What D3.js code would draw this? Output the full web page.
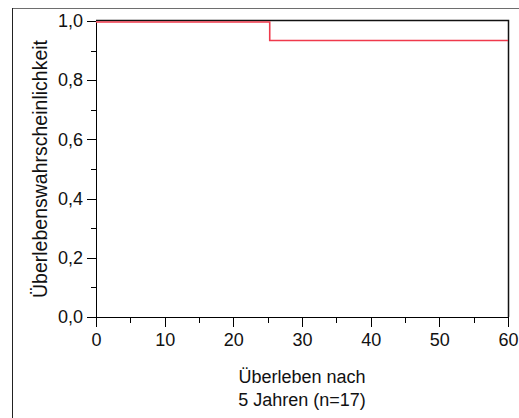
<!DOCTYPE html>
<html>
<head>
<meta charset="utf-8">
<script src="https://cdn.jsdelivr.net/npm/d3@7"></script>
<style>
  body { margin: 0; background: #fff; }
  text { font-family: Arial, "Liberation Sans", sans-serif; fill: #111; }
  .axis path, .axis line { stroke: #000; shape-rendering: crispEdges; }
</style>
</head>
<body>
<div id="chart"></div>
<script>
// Kaplan-Meier step values
var times = [0, 25.3, 60];
var survival = [1, 0.9375, 0.9375];

var xTicks = [0, 10, 20, 30, 40, 50, 60];
var xMinor = [5, 15, 25, 35, 45, 55];
var yTicks = [0, 0.2, 0.4, 0.6, 0.8, 1.0];
var yMinor = [0.1, 0.3, 0.5, 0.7, 0.9];

var yTitle = "Überlebenswahrscheinlichkeit";
var xTitle = ["Überleben nach", "5 Jahren (n=17)"];

var width = 519, height = 418;
var svg = d3.select("#chart").append("svg")
    .attr("width", width)
    .attr("height", height);

// outer frame (top and left edges visible)
svg.append("line").attr("x1", 12).attr("x2", width).attr("y1", 8.5).attr("y2", 8.5)
    .attr("stroke", "#6e6e6e");
svg.append("line").attr("x1", 12.5).attr("x2", 12.5).attr("y1", 8).attr("y2", height)
    .attr("stroke", "#222");

var x = d3.scaleLinear().domain([0, 60]).range([96, 508]);
var y = d3.scaleLinear().domain([0, 1]).range([317, 21]);

var fmt = d => d3.format(".1f")(d).replace(".", ",");

// major axes
svg.append("g")
    .attr("class", "axis")
    .attr("transform", "translate(0," + y(0) + ")")
    .call(d3.axisBottom(x).tickValues(xTicks).tickSize(10).tickSizeOuter(0).tickPadding(6))
    .call(g => g.selectAll("text").style("font-size", "18px"));

svg.append("g")
    .attr("class", "axis")
    .attr("transform", "translate(" + x(0) + ",0)")
    .call(d3.axisLeft(y).tickValues(yTicks).tickFormat(fmt).tickSize(9).tickSizeOuter(0).tickPadding(4))
    .call(g => g.selectAll("text").style("font-size", "18px"));

// minor ticks
svg.append("g")
    .attr("class", "axis")
    .attr("transform", "translate(0," + y(0) + ")")
    .call(d3.axisBottom(x).tickValues(xMinor).tickSize(6).tickFormat(""))
    .call(g => g.select(".domain").remove());

svg.append("g")
    .attr("class", "axis")
    .attr("transform", "translate(" + x(0) + ",0)")
    .call(d3.axisLeft(y).tickValues(yMinor).tickSize(5).tickFormat(""))
    .call(g => g.select(".domain").remove());

// top and right frame of plot area
svg.append("path")
    .attr("d", "M" + x(0) + "," + (y(1) - 0.5) + "H" + (x(60) + 0.5) + "V" + y(0))
    .attr("fill", "none")
    .attr("stroke", "#111")
    .attr("stroke-width", 1.5);

// survival step curve
var line = d3.line()
    .x(d => x(d[0]))
    .y(d => y(d[1]))
    .curve(d3.curveStepAfter);

svg.append("path")
    .datum(times.map((t, i) => [t, survival[i]]))
    .attr("transform", "translate(0,1)")
    .attr("d", line)
    .attr("fill", "none")
    .attr("stroke", "#ef3a4c")
    .attr("stroke-width", 1.6);

// titles
svg.append("text")
    .attr("transform", "translate(47," + ((y(0) + y(1)) / 2) + ") rotate(-90)")
    .attr("text-anchor", "middle")
    .style("font-size", "19.5px")
    .text(yTitle);

svg.selectAll(".xtitle")
    .data(xTitle)
    .enter().append("text")
    .attr("class", "xtitle")
    .attr("x", 302)
    .attr("y", (d, i) => 383 + i * 23)
    .attr("text-anchor", "middle")
    .style("font-size", "18px")
    .text(d => d);
</script>
</body>
</html>
